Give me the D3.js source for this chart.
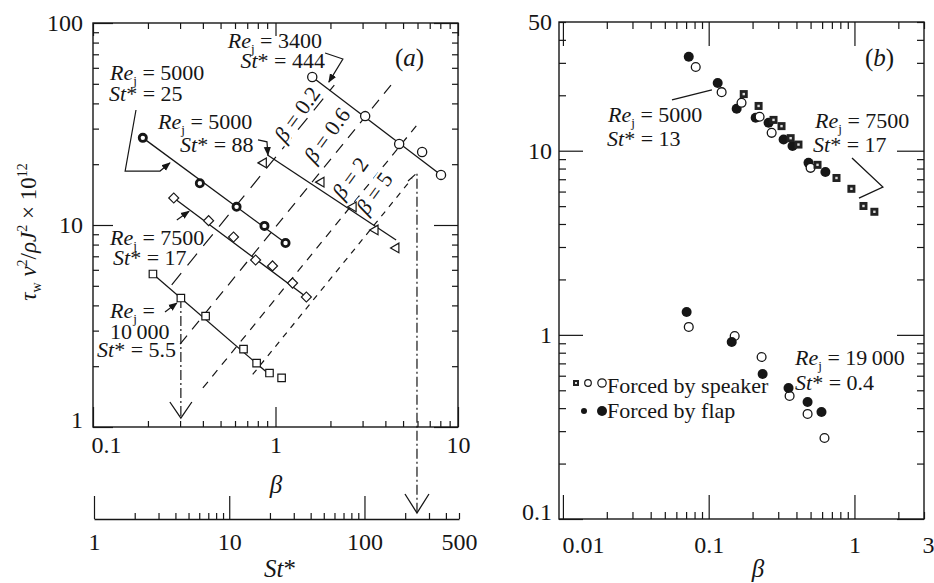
<!DOCTYPE html>
<html>
<head>
<meta charset="utf-8">
<script src="https://cdn.jsdelivr.net/npm/d3@7"></script>
<style>
  body { margin: 0; background: #fff; }
  svg text { font-family: "Liberation Serif", "Times New Roman", "DejaVu Serif", serif; fill: #161616; white-space: pre; }
</style>
</head>
<body>
<svg id="chart" width="934" height="583"></svg>
<script>
// ---------- panel (a): beta vs tau_w nu^2 / rho J^2 x 10^12 ----------
const openCirc3400 = [[1.59, 54], [3.1, 34.6], [4.76, 25.2], [6.36, 23], [8.07, 17.7]];
const boldCirc5000 = [[0.1875, 27], [0.385, 16.1], [0.612, 12.3], [0.87, 9.9], [1.135, 8.15]];
const triangle5000 = [[0.86, 20.3], [1.78, 16.3], [2.67, 12.3], [3.52, 9.45], [4.58, 7.7]];
const diamond7500 = [[0.277, 13.6], [0.43, 10.5], [0.589, 8.72], [0.778, 6.71], [0.963, 6.27], [1.24, 5.16], [1.476, 4.4]];
const square10000 = [[0.213, 5.72], [0.303, 4.35], [0.414, 3.54], [0.668, 2.43], [0.788, 2.07], [0.927, 1.85], [1.08, 1.75]];

// straight fits through each run (start, end)
const fitsA = [
  [[1.59, 54], [8.07, 17.7]],
  [[0.1875, 27], [1.135, 8.15]],
  [[0.904, 22.2], [4.58, 8.43]],
  [[0.277, 13.6], [1.476, 4.4]],
  [[0.213, 5.72], [0.893, 1.87]]
];

// lines of constant beta (dashed), end points
const betaNames = ["0.2", "0.6", "2", "5"];
const betaLines = [
  [[0.27, 5.06], [2.1, 49.3]],
  [[0.3, 2.57], [4.3, 49.3]],
  [[0.4, 1.56], [6.0, 31.5]],
  [[0.75, 1.82], [5.6, 17.0]]
];
const betaLabelAt = [[1.31, 35.4], [1.91, 27.9], [2.56, 17.1], [3.47, 14.4]];
const betaDash = ["15,10", "11,8", "8,7", "6,6"];

// leader arrows in panel (a)
const leadersA = [
  [[1.87, 71.0], [2.34, 66.3], [1.96, 51.0]],
  [[0.172, 37.1], [0.150, 18.5], [0.233, 18.5], [0.264, 20.3]],
  [[0.802, 26.4], [0.898, 25.8], [0.909, 22.2]],
  [[0.288, 10.6], [0.336, 11.7]],
  [[0.248, 3.71], [0.288, 4.11]]
];
// dash-dot drop lines: beta -> axis
const dropSmall = [[0.303, 4.35], [0.303, 1.108]];
const dropLarge = [[5.32, 16.5], [5.96, 18.1]];

const xTicksA = [[0.1, "0.1"], [1, "1"], [10, "10"]];
const yTicksA = [[1, "1"], [10, "10"], [100, "100"]];
const stTicks = [[1, "1"], [10, "10"], [100, "100"], [500, "500"]];

// ---------- panel (b) ----------
const flap5000 = [[0.0730, 32.4], [0.1153, 23.3], [0.1556, 16.9], [0.210, 15.1], [0.2576, 14.2], [0.3266, 11.5], [0.376, 10.6], [0.484, 8.59], [0.632, 7.67]];
const speaker5000 = [[0.0815, 28.5], [0.1227, 20.8], [0.168, 18.2], [0.2235, 15.3], [0.2704, 12.5], [0.500, 8.07]];
const speaker7500 = [[0.174, 20.3], [0.220, 17.5], [0.2785, 14.7], [0.316, 13.6], [0.365, 11.7], [0.413, 10.8], [0.558, 8.38], [0.753, 7.11], [0.953, 6.21], [1.153, 5.01], [1.37, 4.66]];
const flap19000 = [[0.0706, 1.332], [0.1439, 0.915], [0.2344, 0.613], [0.353, 0.515], [0.477, 0.432], [0.594, 0.381]];
const speaker19000 = [[0.0730, 1.104], [0.1508, 0.986], [0.2307, 0.758], [0.359, 0.466], [0.477, 0.372], [0.623, 0.2754]];

const leadersB = [
  [[0.0560, 18.9], [0.1052, 21.4]],
  [[0.962, 9.12], [1.567, 6.35], [1.074, 5.53]]
];

const xTicksB = [[0.01, "0.01"], [0.1, "0.1"], [1, "1"], [3, "3"]];
const yTicksB = [[0.1, "0.1"], [1, "1"], [10, "10"], [50, "50"]];

// ---------- scales ----------
const xA = d3.scaleLog().domain([0.1, 10]).range([93, 458]);
const yA = d3.scaleLog().domain([1, 100]).range([427, 23]);
const stA = d3.scaleLog().domain([1, 500]).range([94, 459]);
const stAxisY = 519;
const xB = d3.scaleLog().domain([0.0094, 3]).range([559, 924]);
const yB = d3.scaleLog().domain([0.1, 50]).range([519, 22]);

const ink = "#161616";
const serif = '"Liberation Serif", "Times New Roman", serif';
const svg = d3.select("#chart");

svg.append("defs").append("marker")
  .attr("id", "arr").attr("viewBox", "0 0 10 10").attr("refX", 9).attr("refY", 5)
  .attr("markerWidth", 9).attr("markerHeight", 9).attr("markerUnits", "userSpaceOnUse")
  .attr("orient", "auto")
  .append("path").attr("d", "M0,1 L10,5 L0,9 Z").attr("fill", ink);

const isMajor = v => Math.abs(Math.log10(v) - Math.round(Math.log10(v))) < 1e-6;
const findLabel = (labels, d) => { const m = labels.find(l => Math.abs(l[0] / d - 1) < 1e-6); return m ? m[1] : ""; };

function sideAxis(g, scale, side, pos, labels, pad, majLen, minLen, keepDomain) {
  const gen = { bottom: d3.axisBottom, top: d3.axisTop, left: d3.axisLeft, right: d3.axisRight }[side](scale)
    .tickValues(scale.ticks())
    .tickSizeInner(0).tickSizeOuter(0).tickPadding(pad)
    .tickFormat(d => findLabel(labels, d));
  const horiz = side === "bottom" || side === "top";
  const a = g.append("g")
    .attr("transform", horiz ? `translate(0,${pos})` : `translate(${pos},0)`)
    .call(gen)
    .attr("font-family", serif).attr("font-size", 24);
  if (!keepDomain) a.select(".domain").remove();
  else a.select(".domain").attr("stroke", ink).attr("stroke-width", 1.4);
  const sign = (side === "bottom" || side === "right") ? -1 : 1;
  a.selectAll(".tick line")
    .attr(horiz ? "y2" : "x2", d => sign * (isMajor(d) ? majLen : minLen))
    .attr("stroke", ink).attr("stroke-width", 1.2);
  a.selectAll(".tick text").attr("fill", ink);
  return a;
}

function frame(g, x, y) {
  const [x0, x1] = x.range(), [y0, y1] = y.range();
  g.append("rect").attr("x", x0).attr("y", y1).attr("width", x1 - x0).attr("height", y0 - y1)
    .attr("fill", "none").attr("stroke", ink).attr("stroke-width", 1.4);
}

function labelParts(t, kind, val) {
  if (kind === "re") {
    t.append("tspan").attr("font-style", "italic").text("Re");
    t.append("tspan").attr("font-size", "0.6em").attr("dy", 5).text("j");
    t.append("tspan").attr("dy", -5).text(" = " + val);
  } else if (kind === "st") {
    t.append("tspan").attr("font-style", "italic").text("St");
    t.append("tspan").text("* = " + val);
  } else {
    t.text(val);
  }
}

function addTexts(g, specs, fs) {
  specs.forEach(s => {
    const t = g.append("text").attr("x", s.x).attr("y", s.y).attr("font-size", fs)
      .attr("text-anchor", s.anchor || "start");
    labelParts(t, s.kind, s.val);
  });
}

// ================= panel (a) =================
const gA = svg.append("g");
frame(gA, xA, yA);
const bA = sideAxis(gA, xA, "bottom", 427, xTicksA, 9, 20, 6);
sideAxis(gA, xA, "top", 23, [], 3, 13, 6);
const lA = sideAxis(gA, yA, "left", 93, yTicksA, 10, 20, 6);
sideAxis(gA, yA, "right", 458, [], 3, 24, 6);
bA.selectAll(".tick text").filter(d => Math.abs(d - 0.1) < 1e-9).attr("text-anchor", "start").attr("x", -2);
lA.selectAll(".tick text").filter(d => Math.abs(d - 1) < 1e-9).attr("y", -7);

// St* axis below
sideAxis(gA, stA, "bottom", stAxisY, stTicks, 14, 23, 6, true);

const lineA = d3.line().x(d => xA(d[0])).y(d => yA(d[1]));

// beta = const dashed lines
betaLines.forEach((seg, i) => {
  gA.append("path").attr("d", lineA(seg)).attr("fill", "none")
    .attr("stroke", ink).attr("stroke-width", 1.2).attr("stroke-dasharray", betaDash[i]);
});
betaLabelAt.forEach((p, i) => {
  const t = gA.append("text").attr("font-size", 22).attr("text-anchor", "middle")
    .attr("transform", `translate(${xA(p[0])},${yA(p[1])}) rotate(-54)`).attr("dy", "0.35em")
    .attr("stroke", "#fff").attr("stroke-width", 5).attr("paint-order", "stroke");
  t.append("tspan").attr("font-style", "italic").text("β");
  t.append("tspan").text(" = " + betaNames[i]);
});

// dash-dot drops with open V heads
const dashDot = "10,3,2,3";
gA.append("path").attr("d", lineA(dropSmall)).attr("fill", "none").attr("stroke", ink)
  .attr("stroke-width", 1.2).attr("stroke-dasharray", dashDot);
{
  const tx = xA(dropSmall[1][0]), ty = yA(dropSmall[1][1]);
  gA.append("path").attr("d", `M${tx - 11},${ty - 16}L${tx},${ty}L${tx + 11},${ty - 16}`)
    .attr("fill", "none").attr("stroke", ink).attr("stroke-width", 1.3);
}
{
  const tx = xA(dropLarge[1][0]), ty = stAxisY - 6;
  const pts = dropLarge.map(d => [xA(d[0]), yA(d[1])]).concat([[tx, ty]]);
  gA.append("path").attr("d", d3.line()(pts)).attr("fill", "none").attr("stroke", ink)
    .attr("stroke-width", 1.2).attr("stroke-dasharray", dashDot);
  gA.append("path").attr("d", `M${tx - 12},${ty - 19}L${tx},${ty}L${tx + 12},${ty - 19}`)
    .attr("fill", "none").attr("stroke", ink).attr("stroke-width", 1.3);
}

// fits
fitsA.forEach(seg => {
  gA.append("path").attr("d", lineA(seg)).attr("fill", "none").attr("stroke", ink).attr("stroke-width", 1.3);
});

// leaders
leadersA.forEach(seg => {
  gA.append("path").attr("d", lineA(seg)).attr("fill", "none").attr("stroke", ink)
    .attr("stroke-width", 1.2).attr("marker-end", "url(#arr)");
});

// markers
function symbols(g, data, x, y, sym, size, rot, sw) {
  g.selectAll(null).data(data).enter().append("path")
    .attr("d", d3.symbol().type(sym).size(size)())
    .attr("transform", d => `translate(${x(d[0])},${y(d[1])}) rotate(${rot})`)
    .attr("fill", "#fff").attr("stroke", ink).attr("stroke-width", sw);
}
gA.selectAll(null).data(openCirc3400).enter().append("circle")
  .attr("cx", d => xA(d[0])).attr("cy", d => yA(d[1])).attr("r", 4.6)
  .attr("fill", "#fff").attr("stroke", ink).attr("stroke-width", 1.3);
gA.selectAll(null).data(boldCirc5000).enter().append("circle")
  .attr("cx", d => xA(d[0])).attr("cy", d => yA(d[1])).attr("r", 3.6)
  .attr("fill", "#fff").attr("stroke", ink).attr("stroke-width", 2.8);
symbols(gA, triangle5000, xA, yA, d3.symbolTriangle, 40, -90, 1.2);
symbols(gA, diamond7500, xA, yA, d3.symbolSquare, 50, 45, 1.2);
symbols(gA, square10000, xA, yA, d3.symbolSquare, 56, 0, 1.2);

// annotation texts
addTexts(gA, [
  { x: 322, y: 48, anchor: "end", kind: "re", val: "3400" },
  { x: 325, y: 68, anchor: "end", kind: "st", val: "444" },
  { x: 110, y: 80, kind: "re", val: "5000" },
  { x: 109, y: 101, kind: "st", val: "25" },
  { x: 158, y: 129, kind: "re", val: "5000" },
  { x: 180, y: 152, kind: "st", val: "88" },
  { x: 110, y: 245, kind: "re", val: "7500" },
  { x: 113, y: 265, kind: "st", val: "17" },
  { x: 110, y: 318, kind: "re", val: "" },
  { x: 110, y: 339, kind: "plain", val: "10\u2009000" },
  { x: 97, y: 357, kind: "st", val: "5.5" }
], 22);

// titles (a)
{
  const t = gA.append("text").attr("x", 395).attr("y", 66).attr("font-size", 25);
  t.append("tspan").text("(");
  t.append("tspan").attr("font-style", "italic").text("a");
  t.append("tspan").text(")");
}
gA.append("text").attr("x", 276).attr("y", 493).attr("font-size", 25).attr("text-anchor", "middle")
  .attr("font-style", "italic").text("β");
{
  const t = gA.append("text").attr("x", 280).attr("y", 577).attr("font-size", 25).attr("text-anchor", "middle");
  t.append("tspan").attr("font-style", "italic").text("St");
  t.append("tspan").text("*");
}
{
  const t = gA.append("text").attr("transform", "translate(36,232) rotate(-90)")
    .attr("font-size", 23).attr("text-anchor", "middle");
  t.append("tspan").attr("font-style", "italic").text("τ");
  t.append("tspan").attr("font-size", 14).attr("dy", 5).text("w");
  t.append("tspan").attr("font-style", "italic").attr("dy", -5).text(" ν");
  t.append("tspan").attr("font-size", 14).attr("dy", -9).text("2");
  t.append("tspan").attr("dy", 9).text("/");
  t.append("tspan").attr("font-style", "italic").text("ρJ");
  t.append("tspan").attr("font-size", 14).attr("dy", -9).text("2");
  t.append("tspan").attr("dy", 9).text(" × 10");
  t.append("tspan").attr("font-size", 14).attr("dy", -9).text("12");
}

// ================= panel (b) =================
const gB = svg.append("g");
frame(gB, xB, yB);
const bB = sideAxis(gB, xB, "bottom", 519, xTicksB, 17, 24, 7);
sideAxis(gB, xB, "top", 22, [], 3, 24, 7);
const lB = sideAxis(gB, yB, "left", 559, yTicksB, 7, 24, 7);
sideAxis(gB, yB, "right", 924, [], 3, 27, 7);
bB.selectAll(".tick text").filter(d => Math.abs(d / 0.01 - 1) < 1e-6).attr("text-anchor", "start").attr("x", -1);
bB.selectAll(".tick text").filter(d => Math.abs(d / 3 - 1) < 1e-6).attr("x", 4);
lB.selectAll(".tick text").filter(d => Math.abs(d / 0.1 - 1) < 1e-6).attr("y", -7);

const lineB = d3.line().x(d => xB(d[0])).y(d => yB(d[1]));
leadersB.forEach(seg => {
  gB.append("path").attr("d", lineB(seg)).attr("fill", "none").attr("stroke", ink).attr("stroke-width", 1.3);
});

function filled(g, data, x, y, r) {
  g.selectAll(null).data(data).enter().append("circle")
    .attr("cx", d => x(d[0])).attr("cy", d => y(d[1])).attr("r", r).attr("fill", ink);
}
function open(g, data, x, y, r) {
  g.selectAll(null).data(data).enter().append("circle")
    .attr("cx", d => x(d[0])).attr("cy", d => y(d[1])).attr("r", r)
    .attr("fill", "#fff").attr("stroke", ink).attr("stroke-width", 1.3);
}
function dotSquare(g, data, x, y, s) {
  const sq = g.selectAll(null).data(data).enter().append("g")
    .attr("transform", d => `translate(${x(d[0])},${y(d[1])})`);
  sq.append("rect").attr("x", -s / 2).attr("y", -s / 2).attr("width", s).attr("height", s).attr("fill", "#222");
  sq.append("rect").attr("x", -1.2).attr("y", -1.2).attr("width", 2.4).attr("height", 2.4).attr("fill", "#ddd");
}

filled(gB, flap5000, xB, yB, 5);
open(gB, speaker5000, xB, yB, 4.4);
dotSquare(gB, speaker7500, xB, yB, 8);
open(gB, speaker19000, xB, yB, 4.4);
filled(gB, flap19000, xB, yB, 5);

// legend
{
  const ly1 = 383, ly2 = 411;
  const s1 = gB.append("g").attr("transform", `translate(576,${ly1})`);
  s1.append("rect").attr("x", -3).attr("y", -3).attr("width", 6).attr("height", 6).attr("fill", "#222");
  s1.append("rect").attr("x", -1).attr("y", -1).attr("width", 2).attr("height", 2).attr("fill", "#ddd");
  gB.append("circle").attr("cx", 588).attr("cy", ly1).attr("r", 3.3).attr("fill", "#fff").attr("stroke", ink).attr("stroke-width", 1.2);
  gB.append("circle").attr("cx", 602).attr("cy", ly1).attr("r", 4.2).attr("fill", "#fff").attr("stroke", ink).attr("stroke-width", 1.2);
  gB.append("circle").attr("cx", 584).attr("cy", ly2).attr("r", 3).attr("fill", ink);
  gB.append("circle").attr("cx", 602).attr("cy", ly2).attr("r", 5).attr("fill", ink);
  gB.append("text").attr("x", 607).attr("y", ly1 + 10).attr("font-size", 22).text("Forced by speaker");
  gB.append("text").attr("x", 607).attr("y", ly2 + 7).attr("font-size", 22).text("Forced by flap");
}

addTexts(gB, [
  { x: 608, y: 122, kind: "re", val: "5000" },
  { x: 607, y: 146, kind: "st", val: "13" },
  { x: 815, y: 128, kind: "re", val: "7500" },
  { x: 813, y: 152, kind: "st", val: "17" },
  { x: 795, y: 365, kind: "re", val: "19\u2009000" },
  { x: 795, y: 390, kind: "st", val: "0.4" }
], 22);

{
  const t = gB.append("text").attr("x", 865).attr("y", 66).attr("font-size", 25);
  t.append("tspan").text("(");
  t.append("tspan").attr("font-style", "italic").text("b");
  t.append("tspan").text(")");
}
gB.append("text").attr("x", 758).attr("y", 577).attr("font-size", 25).attr("text-anchor", "middle")
  .attr("font-style", "italic").text("β");
</script>
</body>
</html>
